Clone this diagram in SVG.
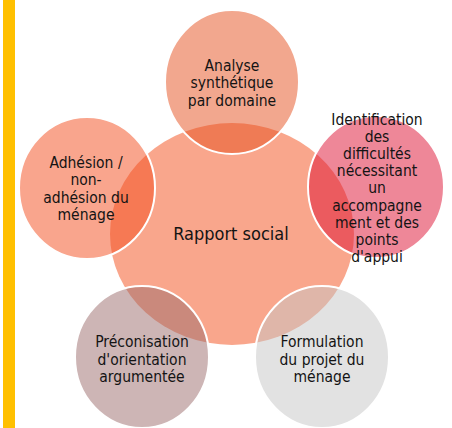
<svg xmlns="http://www.w3.org/2000/svg" width="452" height="428" viewBox="0 0 452 428">
<style>
text{font-family:"DejaVu Sans Condensed","DejaVu Sans",sans-serif;font-stretch:condensed;fill:#141414;text-anchor:middle}
.s{font-size:15.5px}
.c{font-size:18px}
.sat{stroke:#fff;stroke-width:2}
</style>
<rect x="3" y="0" width="12" height="428" fill="#FFC000"/>
<g id="center">
<ellipse cx="232" cy="234" rx="122" ry="111" fill="#F9A68C"/>
</g>
<g id="analyse">
<ellipse class="sat" cx="232" cy="82" rx="67" ry="72" fill="#E54F1D" fill-opacity="0.5"/>
<text class="s"><tspan x="232" y="70.5">Analyse</tspan><tspan x="232" y="88">synthétique</tspan><tspan x="232" y="105.5">par domaine</tspan></text>
</g>
<g id="identification">
<ellipse class="sat" cx="376" cy="187" rx="68" ry="71" fill="#DD0F31" fill-opacity="0.5"/>
<text class="s"><tspan x="377" y="125">Identification</tspan><tspan x="377" y="142.1">des</tspan><tspan x="377" y="159.2">difficultés</tspan><tspan x="377" y="176.3">nécessitant</tspan><tspan x="377" y="193.4">un</tspan><tspan x="377" y="210.5">accompagne</tspan><tspan x="377" y="227.6">ment et des</tspan><tspan x="377" y="244.7">points</tspan><tspan x="377" y="261.8">d'appui</tspan></text>
</g>
<g id="formulation">
<ellipse class="sat" cx="322" cy="357" rx="67" ry="71" fill="#C5C5C5" fill-opacity="0.5"/>
<text class="s"><tspan x="322" y="347">Formulation</tspan><tspan x="322" y="364.5">du projet du</tspan><tspan x="322" y="382">ménage</tspan></text>
</g>
<g id="preconisation">
<ellipse class="sat" cx="142" cy="357" rx="67" ry="71" fill="#9B6B6B" fill-opacity="0.5"/>
<text class="s"><tspan x="142" y="347">Préconisation</tspan><tspan x="142" y="364.5">d'orientation</tspan><tspan x="142" y="382">argumentée</tspan></text>
</g>
<g id="adhesion">
<ellipse class="sat" cx="87" cy="188" rx="68" ry="71" fill="#F34B1B" fill-opacity="0.5"/>
<text class="s"><tspan x="86" y="168">Adhésion /</tspan><tspan x="86" y="185.3">non-</tspan><tspan x="86" y="202.6">adhésion du</tspan><tspan x="86" y="219.9">ménage</tspan></text>
</g>
<g id="center-label">
<text class="c" x="231" y="239.5">Rapport social</text>
</g>
<g id="connectors"/>
</svg>
